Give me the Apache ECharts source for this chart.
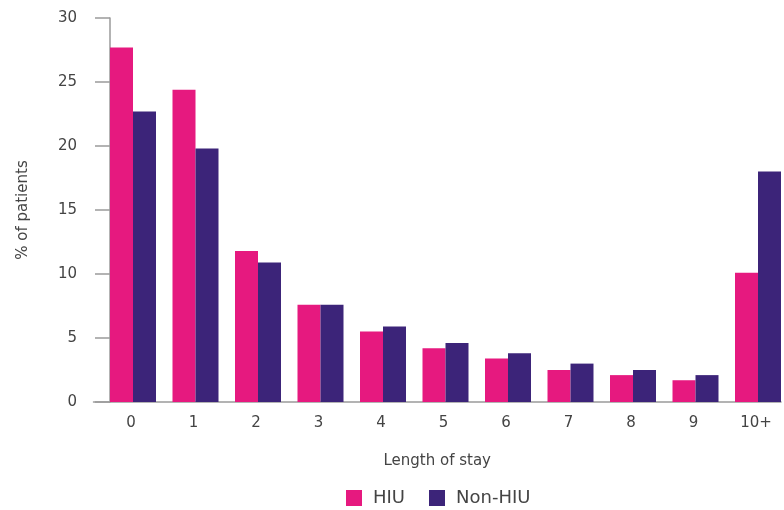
<!DOCTYPE html>
<html><head><meta charset="utf-8">
<script src="https://cdn.jsdelivr.net/npm/echarts@6/dist/echarts.min.js"></script>
<style>html,body{margin:0;padding:0;background:#fff}#c{width:784px;height:510px}</style>
</head><body><div id="c"></div>
<script>
const categories = ['0','1','2','3','4','5','6','7','8','9','10+'];
const hiu = [27.7, 24.4, 11.8, 7.6, 5.5, 4.2, 3.4, 2.5, 2.1, 1.7, 10.1];
const nonHiu = [22.7, 19.8, 10.9, 7.6, 5.9, 4.6, 3.8, 3.0, 2.5, 2.1, 18.0];
const spacer = categories.map(() => 0);
const yTicks = {min: 0, max: 30, interval: 5};

const font = '"DejaVu Sans", sans-serif';
const txt = '#444';
const chart = echarts.init(document.getElementById('c'));
chart.setOption({
  animation: false,
  textStyle: {fontFamily: font},
  grid: {left: 93.5, width: 687.5, top: 18, height: 384},
  legend: {
    data: ['HIU', 'Non-HIU'], top: 484, left: 341,
    itemWidth: 16, itemHeight: 16, itemGap: 24, icon: 'rect',
    textStyle: {fontSize: 18, color: txt, fontFamily: font, padding: [0, 0, 0, 6]}
  },
  xAxis: {
    type: 'category', data: categories,
    name: 'Length of stay', nameLocation: 'middle', nameGap: 52,
    nameTextStyle: {fontSize: 15, color: txt},
    axisLine: {lineStyle: {color: '#9a9a9a', width: 1.5}},
    axisTick: {show: false},
    axisLabel: {fontSize: 15, color: txt, margin: 14, padding: [0, 0, 0, 12.5]}
  },
  yAxis: {
    type: 'value', min: yTicks.min, max: yTicks.max, interval: yTicks.interval,
    offset: -16.5,
    name: '% of patients', nameLocation: 'middle', nameGap: 79, nameRotate: 90,
    nameTextStyle: {fontSize: 15, color: txt},
    axisLine: {show: true, lineStyle: {color: '#9a9a9a', width: 1.5}},
    axisTick: {show: true, length: 15, lineStyle: {color: '#9a9a9a', width: 1.5}},
    splitLine: {show: false},
    axisLabel: {fontSize: 15, color: txt, margin: 33}
  },
  series: [
    {name: 'spacer', type: 'bar', data: spacer, barWidth: 16.5, barGap: '0%', barCategoryGap: '0%', itemStyle: {color: 'rgba(0,0,0,0)'}, silent: true},
    {name: 'HIU', type: 'bar', data: hiu, barWidth: 23, barGap: '0%', itemStyle: {color: '#E6197F'}},
    {name: 'Non-HIU', type: 'bar', data: nonHiu, barWidth: 23, barGap: '0%', itemStyle: {color: '#3C2479'}}
  ]
});
</script></body></html>
